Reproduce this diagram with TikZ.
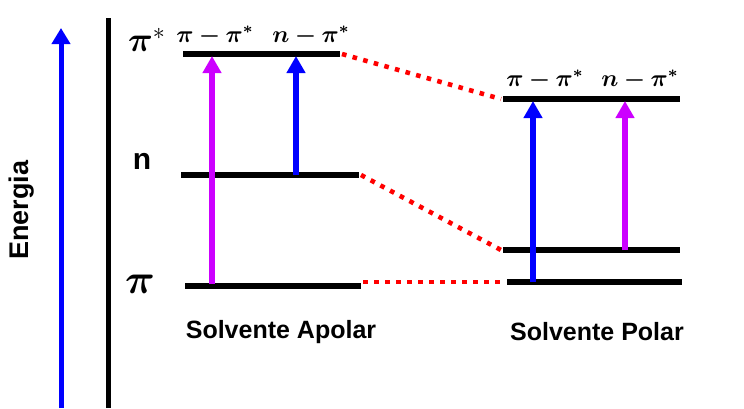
\documentclass[tikz,border=0pt]{standalone}
\usepackage{amsmath,bm}
\usepackage{fontspec}
\setsansfont{Liberation Sans}
\usetikzlibrary{arrows.meta}
\definecolor{violeta}{RGB}{204,0,255}

\begin{document}
\begin{tikzpicture}[x=0.5pt,y=-0.5pt,
    nivel/.style={line width=3pt},
    ligacao/.style={red, line width=2.3pt, dash pattern=on 2.3pt off 3.2pt},
    trans/.style={line width=3pt, -{Triangle[width=9pt,length=8.5pt]}},
    rotulo/.style={font=\sffamily\bfseries\fontsize{12.5}{14}\selectfont},
    tipo/.style={font=\fontsize{11.5}{12}\selectfont}]
    \useasboundingbox (0,0) rectangle (744,408);

    % Energy axis
    \coordinate (eBase) at (61,408);
    \coordinate (eTopo) at (61,28);
    \draw[blue, line width=2.5pt, -{Triangle[width=9pt,length=8pt]}] (eBase) -- (eTopo);
    \node[rotulo, font=\sffamily\bfseries\fontsize{13.5}{15}\selectfont, rotate=90] (energia) at (22,210) {Energia};
    \coordinate (eixoA) at (108,18);
    \coordinate (eixoB) at (108,408);
    \draw[line width=2.5pt] (eixoA) -- (eixoB);

    % Level names
    \node[font=\fontsize{18.5}{20}\selectfont] (nomePiE) at (147,40) {$\bm{\pi}^{*}$};
    \node[rotulo, font=\sffamily\bfseries\fontsize{15}{16}\selectfont] (nomeN) at (142,161) {n};
    \node[font=\fontsize{20}{22}\selectfont] (nomePi) at (140,284) {$\bm{\pi}$};

    % Apolar solvent levels
    \coordinate (aPiEa) at (183,54);  \coordinate (aPiEb) at (340,54);
    \coordinate (aNa)   at (181,175); \coordinate (aNb)   at (359,175);
    \coordinate (aPia)  at (185,286); \coordinate (aPib)  at (361,286);
    \draw[nivel] (aPiEa) -- (aPiEb);
    \draw[nivel] (aNa) -- (aNb);
    \draw[nivel] (aPia) -- (aPib);

    % Polar solvent levels
    \coordinate (pPiEa) at (503,99);  \coordinate (pPiEb) at (680,99);
    \coordinate (pNa)   at (503,250); \coordinate (pNb)   at (680,250);
    \coordinate (pPia)  at (507,282); \coordinate (pPib)  at (682,282);
    \draw[nivel] (pPiEa) -- (pPiEb);
    \draw[nivel] (pNa) -- (pNb);
    \draw[nivel] (pPia) -- (pPib);

    % Links between both sides
    \draw[ligacao] ([xshift=1pt]aPiEb) -- ([xshift=-1pt]pPiEa);
    \draw[ligacao] ([xshift=1pt]aNb) -- ([xshift=-1pt]pNa);
    \draw[ligacao] ([xshift=1pt]aPib |- pPia) -- ([xshift=-3pt]pPia);

    % Transitions, apolar
    \coordinate (t1a) at (212,284); \coordinate (t1b) at (212,56);
    \coordinate (t2a) at (296,175); \coordinate (t2b) at (296,56);
    \draw[trans, violeta] (t1a) -- (t1b);
    \draw[trans, blue] (t2a) -- (t2b);
    \node[tipo] (aPiPi) at (215,36) {$\bm{\pi-\pi^{*}}$};
    \node[tipo] (aNPi)  at (311,36) {$\bm{n-\pi^{*}}$};

    % Transitions, polar
    \coordinate (t3a) at (533,282); \coordinate (t3b) at (533,101);
    \coordinate (t4a) at (625,250); \coordinate (t4b) at (625,101);
    \draw[trans, blue] (t3a) -- (t3b);
    \draw[trans, violeta] (t4a) -- (t4b);
    \node[tipo] (pPiPi) at (545,80) {$\bm{\pi-\pi^{*}}$};
    \node[tipo] (pNPi)  at (640,80) {$\bm{n-\pi^{*}}$};

    % Solvent names
    \node[rotulo] (apolar) at (281,332) {Solvente Apolar};
    \node[rotulo] (polar)  at (597,332) {Solvente Polar};
\end{tikzpicture}
\end{document}
